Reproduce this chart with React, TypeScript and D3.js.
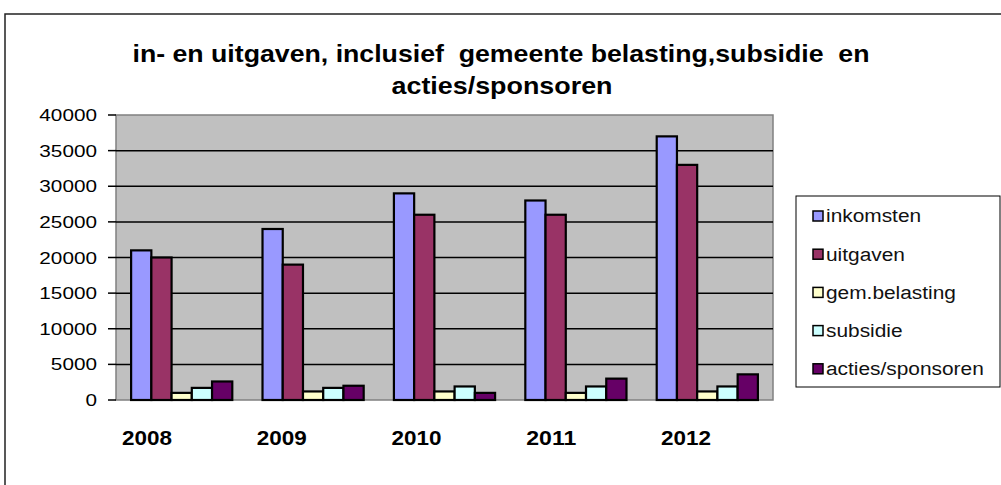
import React from 'react';
import * as d3 from 'd3';

// chart data
const years = ['2008', '2009', '2010', '2011', '2012'];
const seriesNames = ['inkomsten', 'uitgaven', 'gem.belasting', 'subsidie', 'acties/sponsoren'];
const inkomsten = [21000, 24000, 29000, 28000, 37000];
const uitgaven = [20000, 19000, 26000, 26000, 33000];
const gemBelasting = [1000, 1200, 1200, 1000, 1200];
const subsidie = [1700, 1700, 1900, 1900, 1900];
const acties = [2600, 2000, 1000, 3000, 3600];
const yTicks = [0, 5000, 10000, 15000, 20000, 25000, 30000, 35000, 40000];
const titleLines = ['in- en uitgaven, inclusief  gemeente belasting,subsidie  en', 'acties/sponsoren'];

const colors = ['#9999FF', '#993366', '#FFFFCC', '#CCFFFF', '#660066'];
const values = [inkomsten, uitgaven, gemBelasting, subsidie, acties];

const width = 1001;
const height = 485;
const plot = { left: 116, right: 773, top: 115, bottom: 400 };
const font = '"Liberation Sans", Arial, sans-serif';

export default function App() {
  const x0 = d3.scaleBand()
    .domain(years)
    .range([plot.left, plot.right])
    .paddingInner(0.23)
    .paddingOuter(0.115);

  const x1 = d3.scaleBand()
    .domain(seriesNames)
    .range([0, x0.bandwidth()]);

  const y = d3.scaleLinear()
    .domain([0, 40000])
    .range([plot.bottom, plot.top]);

  // year labels sit a bit left of the groups in the original
  const xLabel = d3.scalePoint()
    .domain(years)
    .range([147, 686]);

  return (
    <svg width={width} height={height} style={{ position: 'fixed', left: 0, top: 0 }} fontFamily={font}>
      <rect x={0} y={0} width={width} height={height} fill="#fff" />
      {/* outer chart border */}
      <path d={`M5,${height} V14 H${width}`} fill="none" stroke="#222" strokeWidth={1.5} />

      {/* title */}
      <text x={501} y={62} textAnchor="middle" fontWeight="bold" fontSize={24} style={{ whiteSpace: 'pre' }}
        textLength={737} lengthAdjust="spacingAndGlyphs">{titleLines[0]}</text>
      <text x={502} y={94} textAnchor="middle" fontWeight="bold" fontSize={24}
        textLength={221} lengthAdjust="spacingAndGlyphs">{titleLines[1]}</text>

      {/* plot area */}
      <rect x={plot.left} y={plot.top} width={plot.right - plot.left} height={plot.bottom - plot.top}
        fill="#C0C0C0" stroke="#808080" strokeWidth={1.5} />
      {yTicks.filter(t => t > 0 && t < 40000).map(t => (
        <line key={t} x1={plot.left} x2={plot.right} y1={y(t)} y2={y(t)} stroke="#000" strokeWidth={1.5} />
      ))}

      {/* y axis ticks and labels */}
      {yTicks.map(t => (
        <g key={t}>
          <line x1={108} x2={plot.left} y1={y(t)} y2={y(t)} stroke="#000" strokeWidth={1.5} />
          <text transform={`translate(97,${y(t)}) scale(1.22,1)`} textAnchor="end" dy="0.36em"
            fontSize={17} fill="#000">{t}</text>
        </g>
      ))}

      {/* bars */}
      {years.map((yr, i) => (
        <g key={yr} transform={`translate(${x0(yr)},0)`}>
          {seriesNames.map((s, j) => (
            <rect key={s}
              x={x1(s)} y={y(values[j][i])}
              width={x1.bandwidth()} height={y(0) - y(values[j][i])}
              fill={colors[j]} stroke="#000" strokeWidth={2.2} />
          ))}
        </g>
      ))}

      {/* x labels */}
      {years.map(yr => (
        <text key={yr} x={xLabel(yr)} y={445} textAnchor="middle" fontWeight="bold" fontSize={20}
          textLength={50} lengthAdjust="spacingAndGlyphs">{yr}</text>
      ))}

      {/* legend */}
      <rect x={796} y={196} width={204} height={191} fill="#fff" stroke="#000" strokeWidth={1} />
      {seriesNames.map((s, j) => {
        const cy = 216 + j * 38.2;
        return (
          <g key={s}>
            <rect x={813} y={cy - 5} width={10} height={10} fill={colors[j]} stroke="#000" strokeWidth={1.5} />
            <text transform={`translate(826,${cy}) scale(1.16,1)`} dy="0.36em" fontSize={18} fill="#111">{s}</text>
          </g>
        );
      })}
    </svg>
  );
}
